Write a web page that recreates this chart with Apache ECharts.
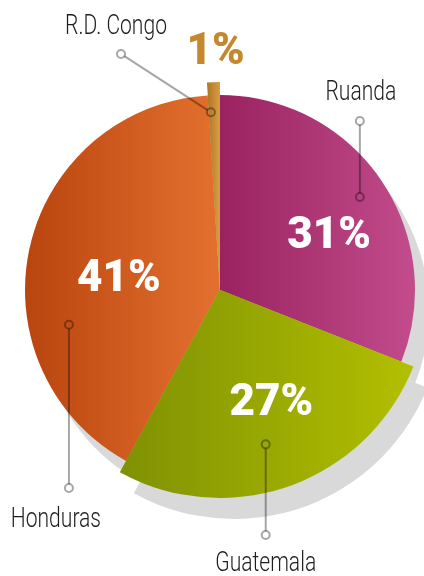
<!DOCTYPE html>
<html>
<head>
<meta charset="utf-8">
<script src="https://cdn.jsdelivr.net/npm/echarts@6/dist/echarts.min.js"></script>
<style>
  html, body { margin: 0; padding: 0; background: #fff; }
  #chart { width: 424px; height: 576px; }
</style>
</head>
<body>
<div id="chart"></div>
<script>
// data
const categories = ['Ruanda', 'Guatemala', 'Honduras', 'R.D. Congo'];
const values = [31, 27, 41, 1];
// slices drawn a bit bigger than the rest
const raised = ['Guatemala', 'R.D. Congo'];
// gradient stops, left -> right
const gradients = {
  'Ruanda': ['#9a2260', '#c24c8c'],
  'Guatemala': ['#7f9104', '#b3bf00'],
  'Honduras': ['#b9450f', '#e4702f'],
  'R.D. Congo': ['#ad7424', '#d99e44']
};
// nudges for the percentage labels
const labelOffsets = {
  'Ruanda': [26, 3],
  'Guatemala': [15, 13],
  'Honduras': [-3, 12],
  'R.D. Congo': [-1, -130]
};
// callouts: where on the slice the leader starts (share of the slice angle, radius)
const callouts = [
  { name: 'Ruanda', frac: 0.505, r: 168, end: [null, 121], text: [1, -28] },
  { name: 'Guatemala', frac: 0.534, r: 161, end: [null, 535], text: [0, 29] },
  { name: 'Honduras', frac: 0.327, r: 155, end: [null, 488], text: [-13, 32] },
  { name: 'R.D. Congo', frac: 0.19, r: 178, end: [121, 54], text: [-5, -27] }
];

const cx = 220, cy = 290;
const R = 195, RAISED_R = 208;
const SHADOW = [14, 21];
const SHADOW_COLOR = '#d9d9d9';
const clear = 'rgba(0,0,0,0)';

const chart = echarts.init(document.getElementById('chart'));

function grad(name) {
  const c = gradients[name];
  return { type: 'linear', x: 0, y: 0, x2: 1, y2: 0, colorStops: [{ offset: 0, color: c[0] }, { offset: 1, color: c[1] }] };
}

const pctLabel = {
  show: true,
  position: 'inside',
  formatter: '{c}%',
  color: '#fff',
  fontFamily: 'Roboto',
  fontWeight: 900,
  fontSize: 44
};

function pie(center, radius, itemFn) {
  return {
    type: 'pie',
    center: center,
    radius: radius,
    startAngle: 90,
    clockwise: true,
    silent: true,
    animation: false,
    label: { show: false },
    labelLine: { show: false },
    emphasis: { disabled: true },
    data: categories.map((name, i) => Object.assign({ name: name, value: values[i] }, itemFn(name)))
  };
}

const sc = [cx + SHADOW[0], cy + SHADOW[1]];

const series = [
  // shadow
  pie(sc, R, () => ({ itemStyle: { color: SHADOW_COLOR } })),
  pie(sc, RAISED_R, name => ({ itemStyle: { color: raised.includes(name) ? SHADOW_COLOR : clear } })),
  // pie
  pie([cx, cy], R, name => ({
    itemStyle: { color: grad(name) },
    label: raised.includes(name) ? { show: false } : Object.assign({}, pctLabel, { offset: labelOffsets[name] })
  })),
  pie([cx, cy], RAISED_R, name => raised.includes(name) ? {
    itemStyle: { color: grad(name) },
    label: Object.assign({}, pctLabel, { offset: labelOffsets[name] },
      name === 'R.D. Congo' ? { color: '#c4892e' } : {})
  } : { itemStyle: { color: clear } })
];

// callout leaders
const total = values.reduce((a, b) => a + b, 0);
const starts = [];
values.reduce((acc, v) => { starts.push(acc); return acc + v; }, 0);
const LINE = 'rgba(0,0,0,0.35)';
const DOT = 4;
const graphics = [];
callouts.forEach(c => {
  const i = categories.indexOf(c.name);
  const ang = (starts[i] + values[i] * c.frac) / total * Math.PI * 2;
  const ax = cx + c.r * Math.sin(ang);
  const ay = cy - c.r * Math.cos(ang);
  const ex = c.end[0] == null ? ax : c.end[0];
  const ey = c.end[1];
  const len = Math.hypot(ex - ax, ey - ay);
  const ux = (ex - ax) / len, uy = (ey - ay) / len;
  graphics.push({
    type: 'line', silent: true, z: 100,
    shape: { x1: ax + ux * DOT, y1: ay + uy * DOT, x2: ex - ux * DOT, y2: ey - uy * DOT },
    style: { stroke: LINE, lineWidth: 2 }
  });
  [[ax, ay], [ex, ey]].forEach(p => graphics.push({
    type: 'circle', silent: true, z: 100,
    shape: { cx: p[0], cy: p[1], r: DOT },
    style: { fill: null, stroke: LINE, lineWidth: 2 }
  }));
  graphics.push({
    type: 'text', silent: true, z: 100,
    x: ex + c.text[0], y: ey + c.text[1],
    scaleX: 0.78,
    style: {
      text: c.name, fill: '#1e1e1e', fontSize: 27,
      fontFamily: 'Roboto, sans-serif', fontWeight: 300,
      align: 'center', verticalAlign: 'middle'
    }
  });
});

chart.setOption({
  animation: false,
  series: series,
  graphic: { elements: graphics }
});
</script>
</body>
</html>
